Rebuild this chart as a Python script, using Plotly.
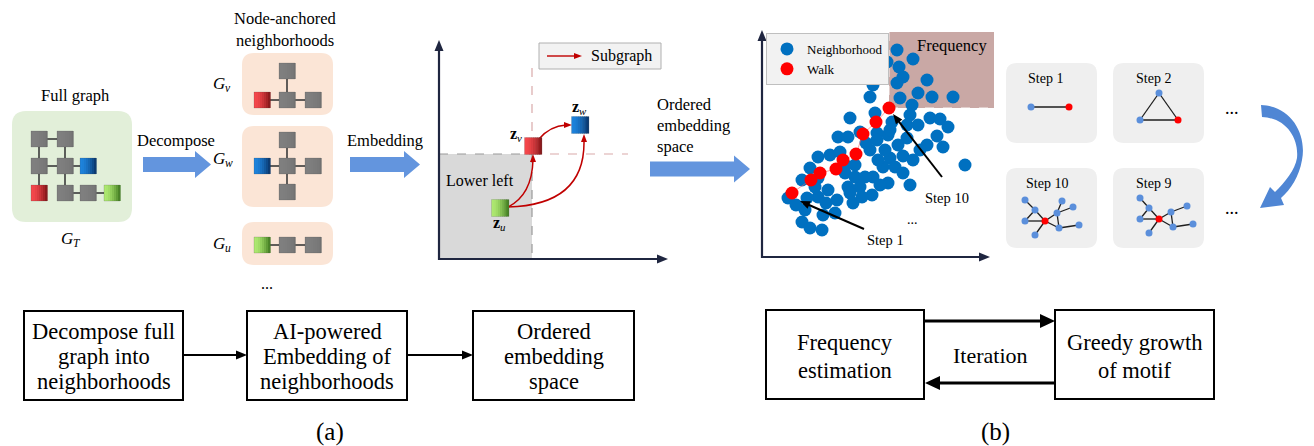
import math
import plotly.graph_objects as go

W, H = 1314, 446
SERIF = "Liberation Serif, Times New Roman, serif"

# ---------------- data ----------------
# ordered-embedding scatter (arbitrary embedding units, origin at the axes corner)
nbr_x = [135, 151, 125, 137, 141, 135, 165, 156, 138, 170,
         191, 150, 111, 108, 113, 88, 98, 76, 115, 126,
         168, 178, 186, 148, 145, 130, 128, 175, 145, 136,
         165, 181, 108, 128, 141, 151, 121, 133, 141, 126,
         203, 111, 110, 56, 68, 78, 116, 48, 40, 56,
         83, 93, 103, 86, 98, 66, 56, 45, 26, 75,
         88, 43, 61, 73, 40, 48, 60, 118, 83, 93,
         104, 86, 115, 156, 53, 64, 123, 158, 148, 91,
         34, 100]
nbr_y = [207, 198, 195, 190, 180, 174, 177, 164, 159, 160,
         160, 152, 172, 160, 144, 139, 125, 120, 124, 122,
         139, 138, 130, 142, 132, 135, 127, 121, 119, 112,
         112, 110, 107, 99, 101, 97, 90, 90, 84, 74,
         92, 80, 62, 100, 102, 105, 97, 89, 77, 79,
         84, 80, 80, 70, 70, 67, 60, 59, 59, 57,
         64, 47, 42, 44, 35, 29, 27, 72, 92, 92,
         114, 120, 117, 132, 70, 54, 107, 107, 72, 54,
         52, 60]
walk_x = [30, 49, 58, 74, 81, 94, 101, 114, 127]
walk_y = [64, 77, 84, 88, 97, 103, 123, 135, 149]
series_names = ["Neighborhood", "Walk"]

# small graph glyphs (node positions, kinds and edges)
full_nodes = [(39, 139, "gray"), (65, 139, "gray"), (39, 166, "gray"), (65, 166, "gray"),
              (88, 166, "blue"), (39, 193, "red"), (65, 193, "gray"), (88, 193, "gray"),
              (112, 193, "green")]
full_edges = [(0, 1), (0, 2), (1, 3), (2, 3), (3, 4), (2, 5), (3, 6), (6, 7), (7, 8)]

gv_nodes = [(287, 71, "gray"), (262, 100, "red"), (287, 100, "gray"), (313, 100, "gray")]
gv_edges = [(0, 2), (1, 2), (2, 3)]
gw_nodes = [(287, 140, "gray"), (262, 166, "blue"), (287, 166, "gray"), (313, 166, "gray"), (287, 192, "gray")]
gw_edges = [(0, 2), (1, 2), (2, 3), (2, 4)]
gu_nodes = [(262, 245, "green"), (287, 245, "gray"), (313, 245, "gray")]
gu_edges = [(0, 1), (1, 2)]

step1_nodes = [(1031, 107, "b"), (1069, 107, "r")]
step1_edges = [(0, 1)]
step2_nodes = [(1159, 93, "b"), (1140, 120, "b"), (1178, 120, "r")]
step2_edges = [(0, 1), (1, 2), (0, 2)]
step10_nodes = [(1045, 221, "r"), (1025, 200, "b"), (1035, 210, "b"), (1025, 221, "b"), (1035, 235, "b"),
                (1062, 201, "b"), (1073, 207, "b"), (1057, 213, "b"), (1059, 228, "b"), (1079, 225, "b")]
step10_edges = [(1, 2), (2, 0), (2, 3), (3, 0), (0, 4), (0, 7), (7, 5), (7, 6), (0, 8), (7, 8), (8, 9)]
step9_nodes = [(1159, 219, "r"), (1140, 198, "b"), (1149, 208, "b"), (1140, 219, "b"), (1149, 233, "b"),
               (1171, 212, "b"), (1187, 206, "b"), (1173, 227, "b"), (1193, 224, "b")]
step9_edges = [(1, 2), (2, 0), (2, 3), (3, 0), (0, 4), (0, 5), (5, 6), (0, 7), (5, 7), (7, 8)]

# ---------------- helpers ----------------
shapes = []
annotations = []


def hexrgb(h):
    h = h.lstrip("#")
    return tuple(int(h[i:i + 2], 16) for i in (0, 2, 4))


def mix(c1, c2, t):
    a, b = hexrgb(c1), hexrgb(c2)
    return "rgb(%d,%d,%d)" % tuple(round(a[i] + (b[i] - a[i]) * t) for i in range(3))


def rrect_path(x0, y0, x1, y1, r):
    return (f"M{x0 + r},{y0} L{x1 - r},{y0} Q{x1},{y0} {x1},{y0 + r} L{x1},{y1 - r} "
            f"Q{x1},{y1} {x1 - r},{y1} L{x0 + r},{y1} Q{x0},{y1} {x0},{y1 - r} "
            f"L{x0},{y0 + r} Q{x0},{y0} {x0 + r},{y0} Z")


def add_path(path, fill=None, line_color=None, width=0, layer="below", dash=None):
    shapes.append(dict(type="path", xref="x", yref="y", path=path, layer=layer,
                       fillcolor=fill if fill else "rgba(0,0,0,0)",
                       line=dict(color=line_color if line_color else "rgba(0,0,0,0)", width=width,
                                 dash=dash)))


def add_rect(x0, y0, x1, y1, fill=None, line_color=None, width=0, layer="below"):
    shapes.append(dict(type="rect", xref="x", yref="y", x0=x0, y0=y0, x1=x1, y1=y1, layer=layer,
                       fillcolor=fill if fill else "rgba(0,0,0,0)",
                       line=dict(color=line_color if line_color else "rgba(0,0,0,0)", width=width)))


def add_line(x0, y0, x1, y1, color, width=1, dash=None, layer="below"):
    shapes.append(dict(type="line", xref="x", yref="y", x0=x0, y0=y0, x1=x1, y1=y1, layer=layer,
                       line=dict(color=color, width=width, dash=dash)))


def text(x, y, s, size=16, xanchor="center", color="black", style="normal", weight="normal"):
    annotations.append(dict(x=x, y=y, xref="x", yref="y", text=s, showarrow=False,
                            xanchor=xanchor, yanchor="middle", borderpad=0,
                            font=dict(family=SERIF, size=size, color=color, style=style,
                                      weight=weight)))


def symbol(x, y, main, sub, bold=False, size=17):
    """Math symbol with subscript, built from two plain texts."""
    if bold:
        text(x, y, main, size, xanchor="right", weight="bold")
    else:
        text(x, y, main, size, xanchor="right", style="italic")
    text(x - 2.5, y + 5, sub, size * 0.68, xanchor="left", style="italic")


def head(x1, y1, ux, uy, color, hl, hw, layer):
    px, py = -uy, ux
    bx, by = x1 - ux * hl, y1 - uy * hl
    p = (f"M{x1},{y1} L{bx + px * hw / 2},{by + py * hw / 2} "
         f"L{bx - px * hw / 2},{by - py * hw / 2} Z")
    add_path(p, fill=color, layer=layer)


def arrow(x0, y0, x1, y1, color, width=1.5, hl=9, hw=8, layer="below"):
    d = math.hypot(x1 - x0, y1 - y0)
    ux, uy = (x1 - x0) / d, (y1 - y0) / d
    add_line(x0, y0, x1 - ux * hl * 0.8, y1 - uy * hl * 0.8, color, width, layer=layer)
    head(x1, y1, ux, uy, color, hl, hw, layer)


SQ = {"gray": ("#7f7f7f", "#767676"), "red": ("#f5484c", "#8e1a1d"),
      "blue": ("#1e83dc", "#0a3b74"), "green": ("#ade870", "#4a8627")}


def square(cx, cy, kind, s=16):
    light, dark = SQ[kind]
    n = 8
    for i in range(n):
        xa = cx - s / 2 + s * i / n
        t = (i / (n - 1)) ** 1.6
        add_rect(xa, cy - s / 2, xa + s / n + 0.6, cy + s / 2, fill=mix(light, dark, t))
    add_rect(cx - s / 2, cy - s / 2, cx + s / 2, cy + s / 2, line_color="rgba(70,70,70,0.3)", width=0.6)


def square_graph(nodes, edges):
    for a, b in edges:
        add_line(nodes[a][0], nodes[a][1], nodes[b][0], nodes[b][1], "#3a3a3a", 1.6)
    for x, y, k in nodes:
        square(x, y, k)


def block_arrow(x0, x1, yc, bh=15, hh=27, hl=16, color="#6395de"):
    p = (f"M{x0},{yc - bh / 2} L{x1 - hl},{yc - bh / 2} L{x1 - hl},{yc - hh / 2} L{x1},{yc} "
         f"L{x1 - hl},{yc + hh / 2} L{x1 - hl},{yc + bh / 2} L{x0},{yc + bh / 2} Z")
    add_path(p, fill=color)


# ---------------- (a) top ----------------
text(75, 95, "Full graph", 16.5)
add_path(rrect_path(12, 111, 132, 222, 14), fill="#e2efd9")
square_graph(full_nodes, full_edges)
symbol(74, 238, "G", "T")

text(176, 140, "Decompose", 16.5)
block_arrow(143, 211, 164.5)

text(285, 18, "Node-anchored", 16.5)
text(285, 40, "neighborhoods", 16.5)
add_path(rrect_path(242, 53, 333, 115, 12), fill="#fbe5d6")
add_path(rrect_path(242, 126, 333, 207, 12), fill="#fbe5d6")
add_path(rrect_path(242, 222, 333, 265, 12), fill="#fbe5d6")
square_graph(gv_nodes, gv_edges)
square_graph(gw_nodes, gw_edges)
square_graph(gu_nodes, gu_edges)
symbol(226, 83, "G", "v")
symbol(226, 158, "G", "w")
symbol(226, 243, "G", "u")
text(267, 283, "...", 16)

text(385, 140, "Embedding", 16.5)
block_arrow(350, 420, 164.5)

# embedding space panel
add_rect(439, 154, 532, 259, fill="#d9d9d9")
add_line(439, 154, 532, 154, "#9a9a9a", 1.2, dash="dash")
add_line(532, 154, 628, 154, "#d9aaaa", 1.2, dash="dash")
add_line(532, 68, 532, 154, "#d9aaaa", 1.2, dash="dash")
add_line(532, 154, 532, 259, "#9a9a9a", 1.2, dash="dash")
arrow(439, 260, 439, 40, "#1f2640", 2.2, 11, 9)
arrow(438, 259, 668, 259, "#1f2640", 2.2, 11, 9)
add_rect(539, 43, 661, 69, fill="#f2f2f2", line_color="#b0b0b0", width=1)
arrow(547, 56, 582, 56, "#c00000", 1.4, 8, 6)
text(621, 56, "Subgraph", 16)
text(480, 180, "Lower left", 16)
# curved subgraph arrows
add_path("M508,207 Q532,195 533,160", line_color="#c00000", width=1.5)
add_path("M508,207 Q585,205 584,141", line_color="#c00000", width=1.5)
add_path("M539,139 Q550,126 566,125", line_color="#c00000", width=1.5)
head(533, 154, 0, -1, "#c00000", 8, 6, "below")
head(584, 134, 0, -1, "#c00000", 8, 6, "below")
head(572, 125, 1, 0, "#c00000", 8, 6, "below")
square(533, 146, "red", 17)
square(580, 125, "blue", 17)
square(500, 208, "green", 17)
symbol(518, 133, "z", "v", bold=True, size=16)
symbol(580, 106, "z", "w", bold=True, size=16)
symbol(501, 222, "z", "u", bold=True, size=16)

text(656, 104, "Ordered", 16.5, xanchor="left")
text(656, 125, "embedding", 16.5, xanchor="left")
text(656, 146, "space", 16.5, xanchor="left")
block_arrow(650, 750, 169)

# ---------------- (b) top ----------------
add_rect(889, 32, 994, 108, fill="#c9a8a5")
add_line(889, 32, 889, 108, "rgba(255,255,255,0.9)", 1, dash="dash")
add_line(889, 108, 994, 108, "rgba(255,255,255,0.9)", 1, dash="dash")
text(952, 45, "Frequency", 16.5)
arrow(762, 258, 762, 30, "#1f2640", 2.2, 11, 9)
arrow(761, 257, 990, 257, "#1f2640", 2.2, 11, 9)

# step panels
for (x0, y0) in [(1006, 63), (1113, 63), (1006, 168), (1113, 168)]:
    add_path(rrect_path(x0, y0, x0 + 91, y0 + 80, 11), fill="#efefef")
text(1045, 78, "Step 1", 14)
text(1153, 78, "Step 2", 14)
text(1047, 183, "Step 10", 14)
text(1153, 183, "Step 9", 14)

step_nx, step_ny, step_nc = [], [], []
for nodes, edges in [(step1_nodes, step1_edges), (step2_nodes, step2_edges),
                     (step10_nodes, step10_edges), (step9_nodes, step9_edges)]:
    for a, b in edges:
        add_line(nodes[a][0], nodes[a][1], nodes[b][0], nodes[b][1], "#1e1e1e", 1.3)
    for x, y, k in nodes:
        step_nx.append(x)
        step_ny.append(y)
        step_nc.append("#ff0000" if k == "r" else "#5b8fdb")

text(1232, 108, "...", 18)
text(1232, 208, "...", 18)
add_path("M1261,105 C1292,106 1307,135 1302,160 C1299,177 1291,189 1281,198 L1284,205 "
         "L1260,208 L1270,187 L1275,192 C1285,182 1295,170 1297,158 C1299,138 1286,118 1262,117 Z",
         fill="#4f86d4")

# ---------------- bottom flow (a) ----------------
for (x0, x1) in [(24, 183), (247, 407), (473, 634)]:
    add_rect(x0, 311, x1, 400, line_color="black", width=2)
text(103.5, 331, "Decompose full", 22.5)
text(103.5, 356, "graph into", 22.5)
text(103.5, 381, "neighborhoods", 22.5)
text(327, 331, "AI-powered", 22.5)
text(327, 356, "Embedding of", 22.5)
text(327, 381, "neighborhoods", 22.5)
text(553.5, 331, "Ordered", 22.5)
text(553.5, 356, "embedding", 22.5)
text(553.5, 381, "space", 22.5)
arrow(183, 355, 247, 355, "black", 2, 11, 9)
arrow(407, 355, 473, 355, "black", 2, 11, 9)
text(330, 432, "(a)", 25)

# ---------------- bottom flow (b) ----------------
add_rect(766, 310, 924, 399, line_color="black", width=2)
add_rect(1055, 310, 1214, 399, line_color="black", width=2)
text(845, 342, "Frequency", 22.5)
text(845, 370, "estimation", 22.5)
text(1135, 342, "Greedy growth", 22.5)
text(1135, 370, "of motif", 22.5)
text(990, 355, "Iteration", 22)
arrow(924, 321, 1055, 321, "black", 3.2, 15, 14)
arrow(1055, 383, 925, 383, "black", 3.2, 15, 14)
text(995, 432, "(b)", 25)

# step arrows in scatter
text(885, 240, "Step 1", 14.5)
text(947, 198, "Step 10", 14.5)
text(912, 219, "...", 14)
arrow(864, 229, 800, 201, "black", 2, 10, 8, layer="above")
arrow(942, 177, 893, 114, "black", 2, 10, 8, layer="above")

# ---------------- traces ----------------
fig = go.Figure()
fig.add_trace(go.Scatter(x=step_nx, y=step_ny, mode="markers", xaxis="x", yaxis="y",
                         marker=dict(size=7, color=step_nc), showlegend=False, hoverinfo="skip"))
fig.add_trace(go.Scatter(x=nbr_x, y=nbr_y, mode="markers", name=series_names[0],
                         xaxis="x2", yaxis="y2", marker=dict(size=13, color="#0070c0")))
fig.add_trace(go.Scatter(x=walk_x, y=walk_y, mode="lines", xaxis="x2", yaxis="y2",
                         line=dict(color="rgba(255,90,90,0.55)", width=1), showlegend=False,
                         hoverinfo="skip"))
fig.add_trace(go.Scatter(x=walk_x, y=walk_y, mode="markers", name=series_names[1],
                         xaxis="x2", yaxis="y2", marker=dict(size=13, color="#ff0000")))

fig.update_layout(
    width=W, height=H, autosize=False,
    margin=dict(l=0, r=0, t=0, b=0),
    paper_bgcolor="white", plot_bgcolor="rgba(0,0,0,0)",
    xaxis=dict(range=[0, W], domain=[0, 1], visible=False, fixedrange=True),
    yaxis=dict(range=[H, 0], domain=[0, 1], visible=False, fixedrange=True),
    xaxis2=dict(range=[0, 225], domain=[762 / W, 987 / W], visible=False, anchor="y2"),
    yaxis2=dict(range=[0, 224], domain=[1 - 257 / H, 1 - 33 / H], visible=False, anchor="x2"),
    shapes=shapes,
    annotations=annotations,
    legend=dict(x=766 / W, y=1 - 33 / H, xanchor="left", yanchor="top", bgcolor="#f2f2f2",
                bordercolor="#bfbfbf", borderwidth=1, itemwidth=30, tracegroupgap=0,
                font=dict(family=SERIF, size=13, color="black")),
    showlegend=True,
)

fig.write_html("out.html", config={"displayModeBar": False},
               post_script="document.body.style.margin='0';document.body.style.overflow='hidden';")
